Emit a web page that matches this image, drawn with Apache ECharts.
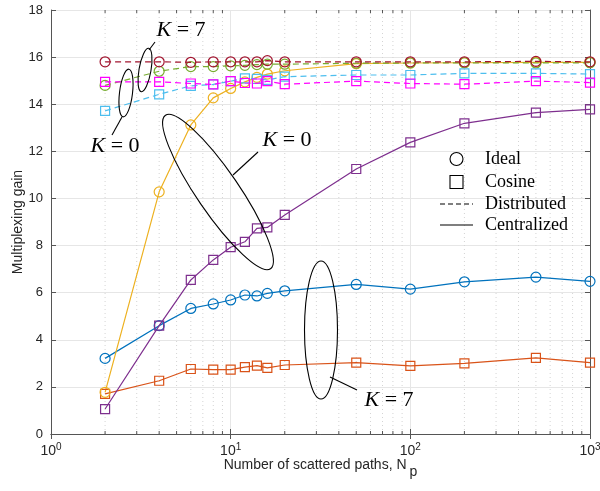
<!DOCTYPE html>
<html>
<head>
<meta charset="utf-8">
<script src="https://cdn.jsdelivr.net/npm/echarts@6/dist/echarts.min.js"></script>
<style>
html, body { margin: 0; padding: 0; background: #fff; }
#chart { width: 600px; height: 491px; }
</style>
</head>
<body>
<div id="chart"></div>
<script>
// number of scattered paths (x)
var paths = [2, 4, 6, 8, 10, 12, 14, 16, 20, 50, 100, 200, 500, 1000];

// centralized (solid)
var centIdealK0 = [1.77, 10.28, 13.12, 14.27, 14.67, 14.95, 15.14, 15.28, 15.42, 15.72, 15.75, 15.76, 15.78, 15.78];
var centCosK0   = [1.06, 4.6, 6.54, 7.39, 7.93, 8.16, 8.73, 8.77, 9.3, 11.25, 12.38, 13.19, 13.64, 13.78];
var centIdealK7 = [3.21, 4.6, 5.33, 5.52, 5.69, 5.9, 5.86, 5.97, 6.08, 6.35, 6.15, 6.46, 6.66, 6.48];
var centCosK7   = [1.7, 2.26, 2.76, 2.73, 2.73, 2.84, 2.9, 2.81, 2.93, 3.03, 2.89, 3.0, 3.23, 3.03];

// distributed (dashed)
var distIdealK0 = [14.8, 15.4, 15.6, 15.6, 15.63, 15.65, 15.68, 15.7, 15.7, 15.74, 15.75, 15.76, 15.75, 15.76];
var distCosK0   = [13.72, 14.42, 14.78, 14.84, 14.98, 15.1, 15.08, 15.03, 15.17, 15.24, 15.24, 15.31, 15.31, 15.28];
var distCosK7   = [14.95, 14.95, 14.88, 14.84, 14.98, 14.9, 14.88, 14.98, 14.85, 14.98, 14.88, 14.85, 14.98, 14.92];
var distIdealK7 = [15.8, 15.8, 15.78, 15.8, 15.8, 15.8, 15.8, 15.85, 15.8, 15.8, 15.8, 15.8, 15.82, 15.8];

var minorX = [2, 3, 4, 5, 6, 7, 8, 9, 20, 30, 40, 50, 60, 70, 80, 90, 200, 300, 400, 500, 600, 700, 800, 900];

var axisColor = '#555';
var labelFont = 'Liberation Sans';
var serif = 'Liberation Serif';

function pairs(ys) {
    var out = [];
    for (var i = 0; i < paths.length; i++) out.push([paths[i], ys[i]]);
    return out;
}

function mkSeries(name, ys, color, symbol, dashed, z) {
    return {
        name: name,
        type: 'line',
        data: pairs(ys),
        symbol: symbol,
        symbolSize: symbol == 'circle' ? 10 : 9,
        z: z,
        lineStyle: { color: color, width: 1.2, type: dashed ? [6, 4] : 'solid' },
        itemStyle: { color: 'rgba(0,0,0,0)', borderColor: color, borderWidth: 1.2 },
        emphasis: { disabled: true },
        animation: false
    };
}

function kText(x, y, num) {
    return {
        type: 'text', x: x, y: y, z: 100,
        style: {
            text: '{i|K} = ' + num,
            fontFamily: serif, fontSize: 22, fill: '#000',
            align: 'center', verticalAlign: 'middle',
            rich: { i: { fontStyle: 'italic', fontFamily: serif, fontSize: 22 } }
        }
    };
}

var anno = { stroke: '#000', fill: 'none', lineWidth: 1.1 };

var chart = echarts.init(document.getElementById('chart'));
var option = {
    animation: false,
    grid: { left: 51, right: 10, top: 10, bottom: 57, show: false, containLabel: false, outerBoundsMode: 'none' },
    xAxis: [{
        type: 'log', logBase: 10, min: 1, max: 1000,
        name: 'Number of scattered paths, N{sub|p}',
        nameLocation: 'middle', nameGap: 17, nameMoveOverlap: false,
        nameTextStyle: {
            fontFamily: labelFont, fontSize: 14, color: '#262626',
            rich: { sub: { fontSize: 14, padding: [14, 0, 0, 3], fontFamily: labelFont, color: '#262626' } }
        },
        axisLine: { lineStyle: { color: axisColor } },
        axisTick: { inside: true, length: 5, lineStyle: { color: axisColor } },
        axisLabel: {
            fontFamily: labelFont, fontSize: 14, color: '#262626', margin: 8,
            formatter: function (v) {
                return '10{sup|' + Math.round(Math.log10(v)) + '}';
            },
            rich: { sup: { fontSize: 10, fontFamily: labelFont, color: '#262626', padding: [0, 0, 9, 0] } }
        },
        splitLine: { show: true, lineStyle: { color: '#e6e6e6' } }
    }, {
        type: 'log', logBase: 10, min: 1, max: 1000, position: 'top',
        axisLine: { lineStyle: { color: axisColor } },
        axisTick: { inside: true, length: 5, lineStyle: { color: axisColor } },
        axisLabel: { show: false },
        splitLine: { show: false }
    }],
    yAxis: [{
        type: 'value', min: 0, max: 18, interval: 2,
        name: 'Multiplexing gain', nameLocation: 'middle', nameGap: 26, nameMoveOverlap: false,
        nameTextStyle: { fontFamily: labelFont, fontSize: 14, color: '#262626' },
        axisLine: { show: true, lineStyle: { color: axisColor } },
        axisTick: { show: true, inside: true, length: 5, lineStyle: { color: axisColor } },
        axisLabel: { fontFamily: labelFont, fontSize: 13, color: '#262626', margin: 8 },
        splitLine: { show: true, lineStyle: { color: '#e6e6e6' } }
    }, {
        type: 'value', min: 0, max: 18, interval: 2, position: 'right',
        axisLine: { show: true, lineStyle: { color: axisColor } },
        axisTick: { show: true, inside: true, length: 5, lineStyle: { color: axisColor } },
        axisLabel: { show: false },
        splitLine: { show: false }
    }],
    series: [
        {
            type: 'custom', silent: true, z: 1,
            data: minorX.map(function (v) { return [v, 0]; }),
            renderItem: function (params, api) {
                var b = api.coord([api.value(0), 0]);
                var t = api.coord([api.value(0), 18]);
                return {
                    type: 'group',
                    children: [
                        { type: 'line', shape: { x1: b[0], y1: b[1], x2: t[0], y2: t[1] },
                          style: { stroke: '#d4d4d4', lineWidth: 1, lineDash: [1, 3] } },
                        { type: 'line', shape: { x1: b[0], y1: b[1], x2: b[0], y2: b[1] - 3 },
                          style: { stroke: axisColor, lineWidth: 1 } },
                        { type: 'line', shape: { x1: t[0], y1: t[1], x2: t[0], y2: t[1] + 3 },
                          style: { stroke: axisColor, lineWidth: 1 } }
                    ]
                };
            },
            animation: false
        },
        mkSeries('Centralized ideal K=7', centIdealK7, '#0072BD', 'circle', false, 3),
        mkSeries('Centralized cosine K=7', centCosK7, '#D95319', 'rect', false, 3),
        mkSeries('Centralized ideal K=0', centIdealK0, '#EDB120', 'circle', false, 3),
        mkSeries('Centralized cosine K=0', centCosK0, '#7E2F8E', 'rect', false, 3),
        mkSeries('Distributed ideal K=0', distIdealK0, '#77AC30', 'circle', true, 4),
        mkSeries('Distributed cosine K=0', distCosK0, '#4DBEEE', 'rect', true, 4),
        mkSeries('Distributed cosine K=7', distCosK7, '#FF00FF', 'rect', true, 5),
        mkSeries('Distributed ideal K=7', distIdealK7, '#A2142F', 'circle', true, 6)
    ],
    graphic: [
        // small ellipses near N_p = 3
        { type: 'ellipse', x: 145, y: 70, rotation: -0.17, shape: { cx: 0, cy: 0, rx: 6, ry: 22 }, style: anno, z: 100 },
        { type: 'line', shape: { x1: 149, y1: 50, x2: 155, y2: 42 }, style: anno, z: 100 },
        kText(181, 30, 7),
        { type: 'ellipse', x: 126, y: 93, rotation: -0.12, shape: { cx: 0, cy: 0, rx: 6.5, ry: 24 }, style: anno, z: 100 },
        { type: 'line', shape: { x1: 122, y1: 117, x2: 112, y2: 135 }, style: anno, z: 100 },
        kText(115, 146, 0),
        // centralized K = 0
        { type: 'ellipse', x: 218, y: 192, rotation: 0.6, shape: { cx: 0, cy: 0, rx: 21, ry: 93 }, style: anno, z: 100 },
        { type: 'line', shape: { x1: 233, y1: 175, x2: 258, y2: 152 }, style: anno, z: 100 },
        kText(287, 140, 0),
        // centralized K = 7
        { type: 'ellipse', x: 321, y: 330, shape: { cx: 0, cy: 0, rx: 16.5, ry: 69 }, style: anno, z: 100 },
        { type: 'line', shape: { x1: 330, y1: 377, x2: 357, y2: 390 }, style: anno, z: 100 },
        kText(389, 400, 7),
        // legend
        { type: 'circle', shape: { cx: 456.5, cy: 159, r: 6.5 }, style: anno, z: 100 },
        { type: 'rect', shape: { x: 450, y: 175.5, width: 13, height: 13 }, style: anno, z: 100 },
        { type: 'line', shape: { x1: 440, y1: 204, x2: 473, y2: 204 }, style: { stroke: '#000', lineWidth: 1.1, lineDash: [5, 3] }, z: 100 },
        { type: 'line', shape: { x1: 440, y1: 225, x2: 473, y2: 225 }, style: { stroke: '#000', lineWidth: 1.1 }, z: 100 },
        { type: 'text', x: 485, y: 159, z: 100, style: { text: 'Ideal', fontFamily: serif, fontSize: 18, fill: '#000', verticalAlign: 'middle' } },
        { type: 'text', x: 485, y: 182, z: 100, style: { text: 'Cosine', fontFamily: serif, fontSize: 18, fill: '#000', verticalAlign: 'middle' } },
        { type: 'text', x: 485, y: 204, z: 100, style: { text: 'Distributed', fontFamily: serif, fontSize: 18, fill: '#000', verticalAlign: 'middle' } },
        { type: 'text', x: 485, y: 225, z: 100, style: { text: 'Centralized', fontFamily: serif, fontSize: 18, fill: '#000', verticalAlign: 'middle' } }
    ]
};
chart.setOption(option);
</script>
</body>
</html>
